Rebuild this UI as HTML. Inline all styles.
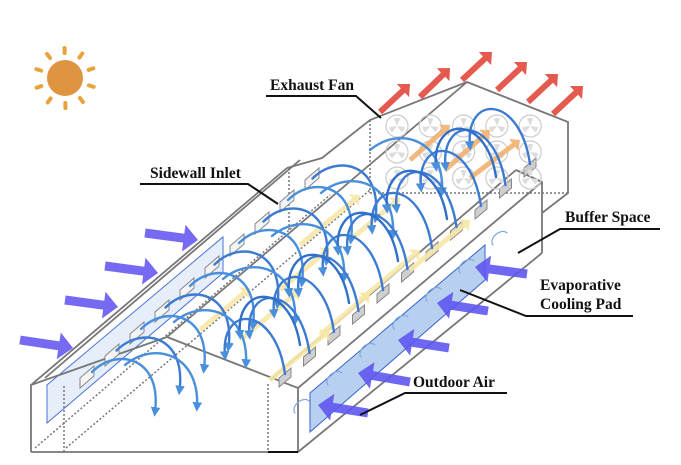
<!DOCTYPE html>
<html><head><meta charset="utf-8"><style>
html,body{margin:0;padding:0;background:#fff;}
svg{display:block;}
text{font-family:"Liberation Serif",serif;font-weight:bold;font-size:15.5px;fill:#111;}
</style></head><body>
<svg id="s" width="681" height="465" viewBox="0 0 681 465" xmlns="http://www.w3.org/2000/svg">
<defs>
<marker id="bh" viewBox="0 0 10 10" refX="5" refY="5" markerWidth="4" markerHeight="4" orient="auto"><path d="M0,0L10,5L0,10z" fill="#4a8fdc"/></marker>
</defs>
<circle cx="65" cy="78" r="18" fill="#de9440"/>
<g stroke="#e8a33c" stroke-width="4" stroke-linecap="round" id="rays"></g>
<polygon points="47,385 47,423 223,273 223,237" fill="#e6eefa" stroke="#4a72d8" stroke-width="1"/>
<polygon points="310,393 310,432 485,280 485,245" fill="#b8d0f0" stroke="#3a62d0" stroke-width="1"/>
<g fill="none" stroke="#777" stroke-width="1.8">
<polyline points="31,452 31,385 167,337 298,388 298,452 31,452"/>
<line x1="31" y1="385" x2="287" y2="168"/>
<polyline points="287,168 322,158 370,120 467,82 568,122 568,193 542,213"/>
<line x1="45" y1="378" x2="300" y2="160"/>
<line x1="167" y1="337" x2="467" y2="82"/>
<line x1="270" y1="380" x2="516" y2="170"/>
<line x1="298" y1="388" x2="542" y2="182"/>
<line x1="298" y1="452" x2="542" y2="253"/>
<polyline points="516,170 542,182 542,253"/>
</g>
<g fill="none" stroke="#777" stroke-width="1.5" stroke-dasharray="2,2">
<line x1="64" y1="386" x2="64" y2="452"/>
<line x1="268" y1="384" x2="268" y2="452"/>
<line x1="370" y1="120" x2="370" y2="193"/>
<line x1="370" y1="193" x2="568" y2="193"/>
<line x1="289" y1="168" x2="289" y2="230"/>
<line x1="35" y1="448" x2="330" y2="195"/>
<line x1="66" y1="448" x2="370" y2="190"/>
</g>
<line x1="268" y1="452" x2="298" y2="452" stroke="#111" stroke-width="2"/>
<g id="slots"></g>
<g id="fans" fill="none" stroke="#ccc" stroke-width="1.2"></g>
<g id="yel"></g>
<g id="arcs" fill="none" stroke-width="2.4" stroke-linecap="round"></g>
<g id="red"></g>
<g id="pur"></g>
<g stroke="#111" stroke-width="2" fill="none">
<polyline points="266,96 356,96 381,118"/>
<polyline points="140,184 248,184 278,204"/>
<polyline points="660,229 560,229 518,253"/>
<polyline points="633,316 526,316 460,290"/>
<polyline points="507,393 405,393 360,415"/>
</g>
<text x="270" y="90">Exhaust Fan</text>
<text x="150" y="178">Sidewall Inlet</text>
<text x="565" y="222">Buffer Space</text>
<text x="540" y="290">Evaporative</text>
<text x="540" y="309">Cooling Pad</text>
<text x="413" y="387">Outdoor Air</text>
</svg>
<script>
var NS="http://www.w3.org/2000/svg";
function el(p,t,a){var e=document.createElementNS(NS,t);for(var k in a)e.setAttribute(k,a[k]);document.getElementById(p).appendChild(e);return e;}
for(var i=0;i<10;i++){var a=i*Math.PI/5+0.3;el("rays","line",{x1:65+25*Math.cos(a),y1:78+25*Math.sin(a),x2:65+30*Math.cos(a),y2:78+30*Math.sin(a)});}
for(var i=0;i<10;i++){var x=80+i*25,y=378-i*22;el("slots","polygon",{points:x+","+y+" "+x+","+(y+10)+" "+(x+14)+","+(y-2)+" "+(x+14)+","+(y-12),fill:"#f4f4f4",stroke:"#888","stroke-width":1});}
for(var i=0;i<11;i++){var x=279+i*24.5,y=378-i*21;el("slots","polygon",{points:x+","+y+" "+x+","+(y+9)+" "+(x+12)+","+(y-1)+" "+(x+12)+","+(y-10),fill:"#cfcfcf",stroke:"#888","stroke-width":1});}
for(var r=0;r<3;r++)for(var c=0;c<5;c++){var cx=397+c*33.3,cy=126+r*26;el("fans","circle",{cx:cx,cy:cy,r:11});
for(var k=0;k<3;k++){var a=k*2.094-1.57;el("fans","path",{d:"M"+cx+","+cy+" L"+(cx+8*Math.cos(a-0.4))+","+(cy+8*Math.sin(a-0.4))+" A8,8 0 0 1 "+(cx+8*Math.cos(a+0.4))+","+(cy+8*Math.sin(a+0.4))+"z",fill:"#ddd",stroke:"none"});}}
function arr(g,x1,y1,x2,y2,w,col,op){var dx=x2-x1,dy=y2-y1,L=Math.hypot(dx,dy),ux=dx/L,uy=dy/L,px=-uy,py=ux,h=w*1.6,hb=w*1.5;
var bx=x2-ux*h,by=y2-uy*h;var pts=[[x1+px*w/2,y1+py*w/2],[bx+px*w/2,by+py*w/2],[bx+px*hb,by+py*hb],[x2,y2],[bx-px*hb,by-py*hb],[bx-px*w/2,by-py*w/2],[x1-px*w/2,y1-py*w/2]];
el(g,"polygon",{points:pts.map(function(p){return p[0].toFixed(1)+","+p[1].toFixed(1)}).join(" "),fill:col,opacity:op});}
[[200,330,250,288],[240,340,300,290],[280,290,330,248],[270,380,330,330],[320,335,370,293],[360,300,420,250],[300,245,360,195],[410,270,470,220],[350,240,400,198]].forEach(function(a){arr("yel",a[0],a[1],a[2],a[3],5,"#f6e7a6",0.9);});
arr("yel",410,160,450,125,5,"#f1b070",0.9);arr("yel",445,170,490,130,5,"#f1b070",0.9);arr("yel",470,178,520,140,5,"#f1b070",0.9);
for(var i=0;i<10;i++){var sx=92+i*24.5,sy=372-i*21.5;
el("arcs","path",{d:"M"+sx+","+sy+" C"+(sx+25)+","+(sy-25)+" "+(sx+70)+","+(sy-15)+" "+(sx+63)+","+(sy+40),stroke:i%2?"#3d7bd2":"#4a8fdc","marker-end":"url(#bh)"});}
for(var i=0;i<6;i++){var sx=125+i*49,sy=365-i*43;
el("arcs","path",{d:"M"+sx+","+sy+" C"+(sx+30)+","+(sy-25)+" "+(sx+75)+","+(sy-10)+" "+(sx+72)+","+(sy+42),stroke:"#4a8fdc","marker-end":"url(#bh)"});}
for(var i=0;i<11;i++){var sx=285+i*24.5,sy=374-i*21;
el("arcs","path",{d:"M"+sx+","+sy+" C"+(sx-10)+","+(sy-70)+" "+(sx-65)+","+(sy-70)+" "+(sx-60)+","+(sy-18),stroke:"#3d7bd2","marker-end":"url(#bh)"});}
for(var i=0;i<5;i++){var sx=300+i*49,sy=345-i*42;
el("arcs","path",{d:"M"+sx+","+sy+" C"+(sx-10)+","+(sy-65)+" "+(sx-65)+","+(sy-60)+" "+(sx-60)+","+(sy-10),stroke:"#3070c8","marker-end":"url(#bh)"});}
for(var i=0;i<7;i++){var x=295+i*33,y=405-i*28;el("arcs","path",{d:"M"+x+","+(y+8)+" A9,6 -40 1 1 "+(x+14)+","+(y-4),stroke:"#7fa8e0","stroke-width":1.2});}
[[380,112,410,84],[420,97,450,68],[462,80,492,52],[497,90,527,62],[528,102,558,74],[553,114,583,86]].forEach(function(a){arr("red",a[0],a[1],a[2],a[3],6,"#e55a4f",1);});
[[145,233,198,240],[105,266,158,273],[65,300,118,307],[20,340,73,348]].forEach(function(a){arr("pur",a[0],a[1],a[2],a[3],9,"#6e62f0",0.95);});
[[527,274,475,267],[488,311,437,303],[449,348,398,340],[410,382,358,373],[368,413,318,405]].forEach(function(a){arr("pur",a[0],a[1],a[2],a[3],9,"#5e56f0",0.9);});
</script>
</body></html>
